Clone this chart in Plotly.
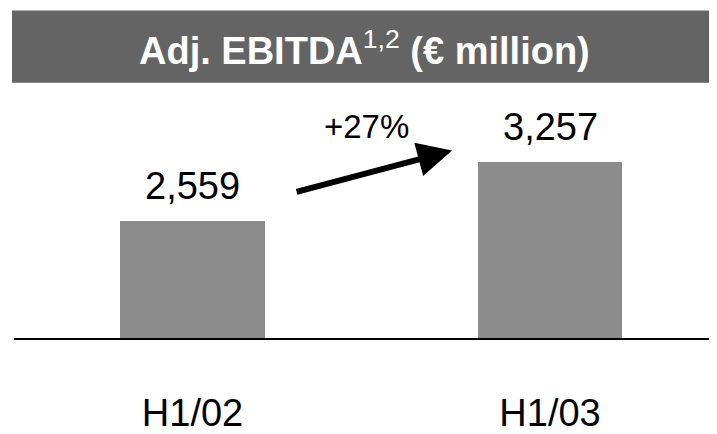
import plotly.graph_objects as go

# ---- data ----
categories = ["H1/02", "H1/03"]
values = [2559, 3257]
value_labels = ["2,559", "3,257"]
growth_label = "+27%"
title_main = "Adj. EBITDA"
title_sup = "1,2"
title_tail = " (€ million)"

# ---- styles / layout constants ----
OFF = 8  # browser body margin
W, H = 717 - OFF, 434 - OFF
ML, MR = 14 - OFF, 0
MT = 100 - OFF
MB = H - (350 - OFF)
BAR_COLOR = "#8c8c8c"
BANNER_COLOR = "#646464"
Y_RANGE = [1164, 3992]
X_RANGE = [-0.4993, 1.467]

plot_h = H - MT - MB
plot_w = W - ML - MR


def py(ypx):  # reference pixel -> paper y
    return (H - MB - (ypx - OFF)) / plot_h


def px(xpx):  # reference pixel -> paper x
    return (xpx - OFF - ML) / plot_w


fig = go.Figure()
fig.add_trace(go.Bar(
    x=list(range(len(categories))),
    y=values,
    width=0.404,
    marker=dict(color=BAR_COLOR, line=dict(width=0)),
    hoverinfo="skip",
))

annotations = []
for i, (v, lab) in enumerate(zip(values, value_labels)):
    annotations.append(dict(
        x=i, y=v, xref="x", yref="y", text=lab, showarrow=False,
        yanchor="bottom", yshift=12,
        font=dict(family="Liberation Sans, Arial", size=38, color="black"),
    ))

# growth arrow (tail near first bar, head near second)
annotations.append(dict(
    x=0.726, y=3392, ax=0.287, ay=2895,
    xref="x", yref="y", axref="x", ayref="y",
    text="", showarrow=True, arrowhead=2, arrowsize=1.15, arrowwidth=6,
    arrowcolor="black", standoff=0, startstandoff=0,
))
annotations.append(dict(
    x=0.488, y=3680, xref="x", yref="y", text=growth_label, showarrow=False,
    font=dict(family="Liberation Sans, Arial", size=33, color="black"),
))

# banner title
title_text = (title_main + '<sup><span style="font-weight:normal">' + title_sup
              + "</span></sup>" + title_tail)
annotations.append(dict(
    x=px(364), y=py(45), xref="paper", yref="paper", text=title_text,
    showarrow=False, xanchor="center", yanchor="middle",
    font=dict(family="Liberation Sans, Arial", size=38, color="white", weight="bold"),
))

fig.update_layout(
    width=W, height=H,
    margin=dict(l=ML, r=MR, t=MT, b=MB, pad=0),
    paper_bgcolor="white", plot_bgcolor="white",
    showlegend=False,
    annotations=annotations,
    shapes=[dict(type="rect", xref="paper", yref="paper",
                 x0=px(12), x1=px(717), y0=py(82), y1=py(6),
                 fillcolor=BANNER_COLOR, line=dict(width=0), layer="below")],
    xaxis=dict(range=X_RANGE, tickmode="array",
               tickvals=list(range(len(categories))), ticktext=categories,
               showgrid=False, zeroline=False, showline=True,
               linecolor="black", linewidth=2, ticks="",
               ticklabelstandoff=40,
               tickfont=dict(family="Liberation Sans, Arial", size=38, color="black"),
               fixedrange=True),
    yaxis=dict(range=Y_RANGE, visible=False, showgrid=False, zeroline=False,
               fixedrange=True),
    bargap=0,
)

fig.write_html("out.html")
